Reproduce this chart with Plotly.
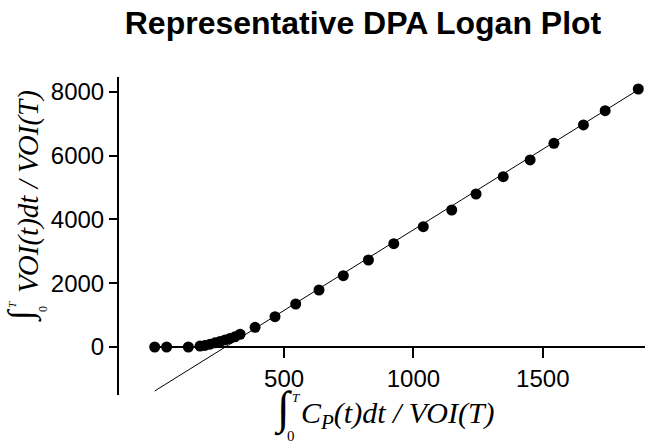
import plotly.graph_objects as go

# ---- data ----
x_vals = [0, 46, 130, 175, 194, 214, 233, 252, 272, 291, 310, 330, 388, 465, 545,
          635, 729, 826, 924, 1038, 1148, 1242, 1347, 1451, 1543, 1657, 1741, 1869]
y_vals = [0, 0, 0, 30, 50, 90, 130, 170, 220, 270, 320, 400, 617, 952, 1349,
          1788, 2237, 2729, 3240, 3774, 4298, 4800, 5343, 5867, 6390, 6965, 7413, 8094]

fit_slope = 5.056
fit_intercept = -1380.0
fit_x_range = [0, 1888]

x_tickvals = [500, 1000, 1500]
y_tickvals = [0, 2000, 4000, 6000, 8000]

title_text = "Representative DPA Logan Plot"

# ---- layout geometry ----
W, H = 647, 445
ML, MR, MT, MB = 119, 2, 77, 50
x_range = [-138, 1895]
y_range = [-1506, 8470]

PW = W - ML - MR
PH = H - MT - MB


def pxx(xp):
    return (xp - ML) / PW


def pxy(yp):
    return (H - MB - yp) / PH


fit_y = [fit_slope * v + fit_intercept for v in fit_x_range]

fig = go.Figure()
fig.add_trace(go.Scatter(x=fit_x_range, y=fit_y, mode="lines",
                         line=dict(color="black", width=1), showlegend=False,
                         hoverinfo="skip"))
fig.add_trace(go.Scatter(x=x_vals, y=y_vals, mode="markers",
                         marker=dict(color="black", size=11, line=dict(width=0)),
                         showlegend=False))

tick_font = dict(family="Liberation Sans, Arial", size=24, color="black")
zero_frac = (0 - y_range[0]) / (y_range[1] - y_range[0])

fig.update_layout(
    width=W, height=H,
    margin=dict(l=ML, r=MR, t=MT, b=MB, pad=0),
    paper_bgcolor="white", plot_bgcolor="white",
    title=dict(text="<b>" + title_text + "</b>",
               font=dict(family="Liberation Sans, Arial", size=32, color="black"),
               x=363 / W, xanchor="center", xref="container",
               y=1 - 23 / H, yanchor="middle", yref="container"),
    xaxis=dict(range=x_range, showgrid=False, zeroline=False, showline=False,
               tickvals=x_tickvals, ticks="outside", ticklen=10, tickwidth=2,
               tickcolor="black", tickfont=tick_font,
               anchor="free", position=zero_frac),
    yaxis=dict(range=y_range, showgrid=False, zeroline=False, showline=True,
               linecolor="black", linewidth=2,
               tickvals=y_tickvals, ticks="outside", ticklen=8, tickwidth=2,
               tickcolor="black", tickfont=tick_font),
)

# x axis line (starts at the data origin, Prism style)
fig.add_shape(type="line", xref="x", yref="y", x0=0, x1=x_range[1], y0=0, y1=0,
              line=dict(color="black", width=2))

serif = "Liberation Serif, Times New Roman"


def ann(text, xp, yp, size, italic=False, angle=0, xanchor="center"):
    f = dict(family=serif, size=size, color="black")
    if italic:
        f["style"] = "italic"
    fig.add_annotation(text=text, xref="paper", yref="paper", x=pxx(xp), y=pxy(yp),
                       xanchor=xanchor, yanchor="middle", textangle=angle,
                       showarrow=False, font=f)


# ---- x axis title (math) ----
ann("\u222B", 283, 409, 46)
ann("T", 296, 397, 13, italic=True)
ann("0", 291, 436, 15)
ann("C<sub>P</sub>(t)dt / VOI(T)", 299, 415, 30, italic=True, xanchor="left")

# ---- y axis title (math, rotated) ----
ann("VOI(t)dt / VOI(T)", 28, 192, 29, italic=True, angle=-90)
ann("\u222B", 21, 315, 35, angle=-90)
ann("T", 12, 305, 11, italic=True, angle=-90)
ann("0", 43, 309, 12, angle=-90)

fig.write_html("out.html")
